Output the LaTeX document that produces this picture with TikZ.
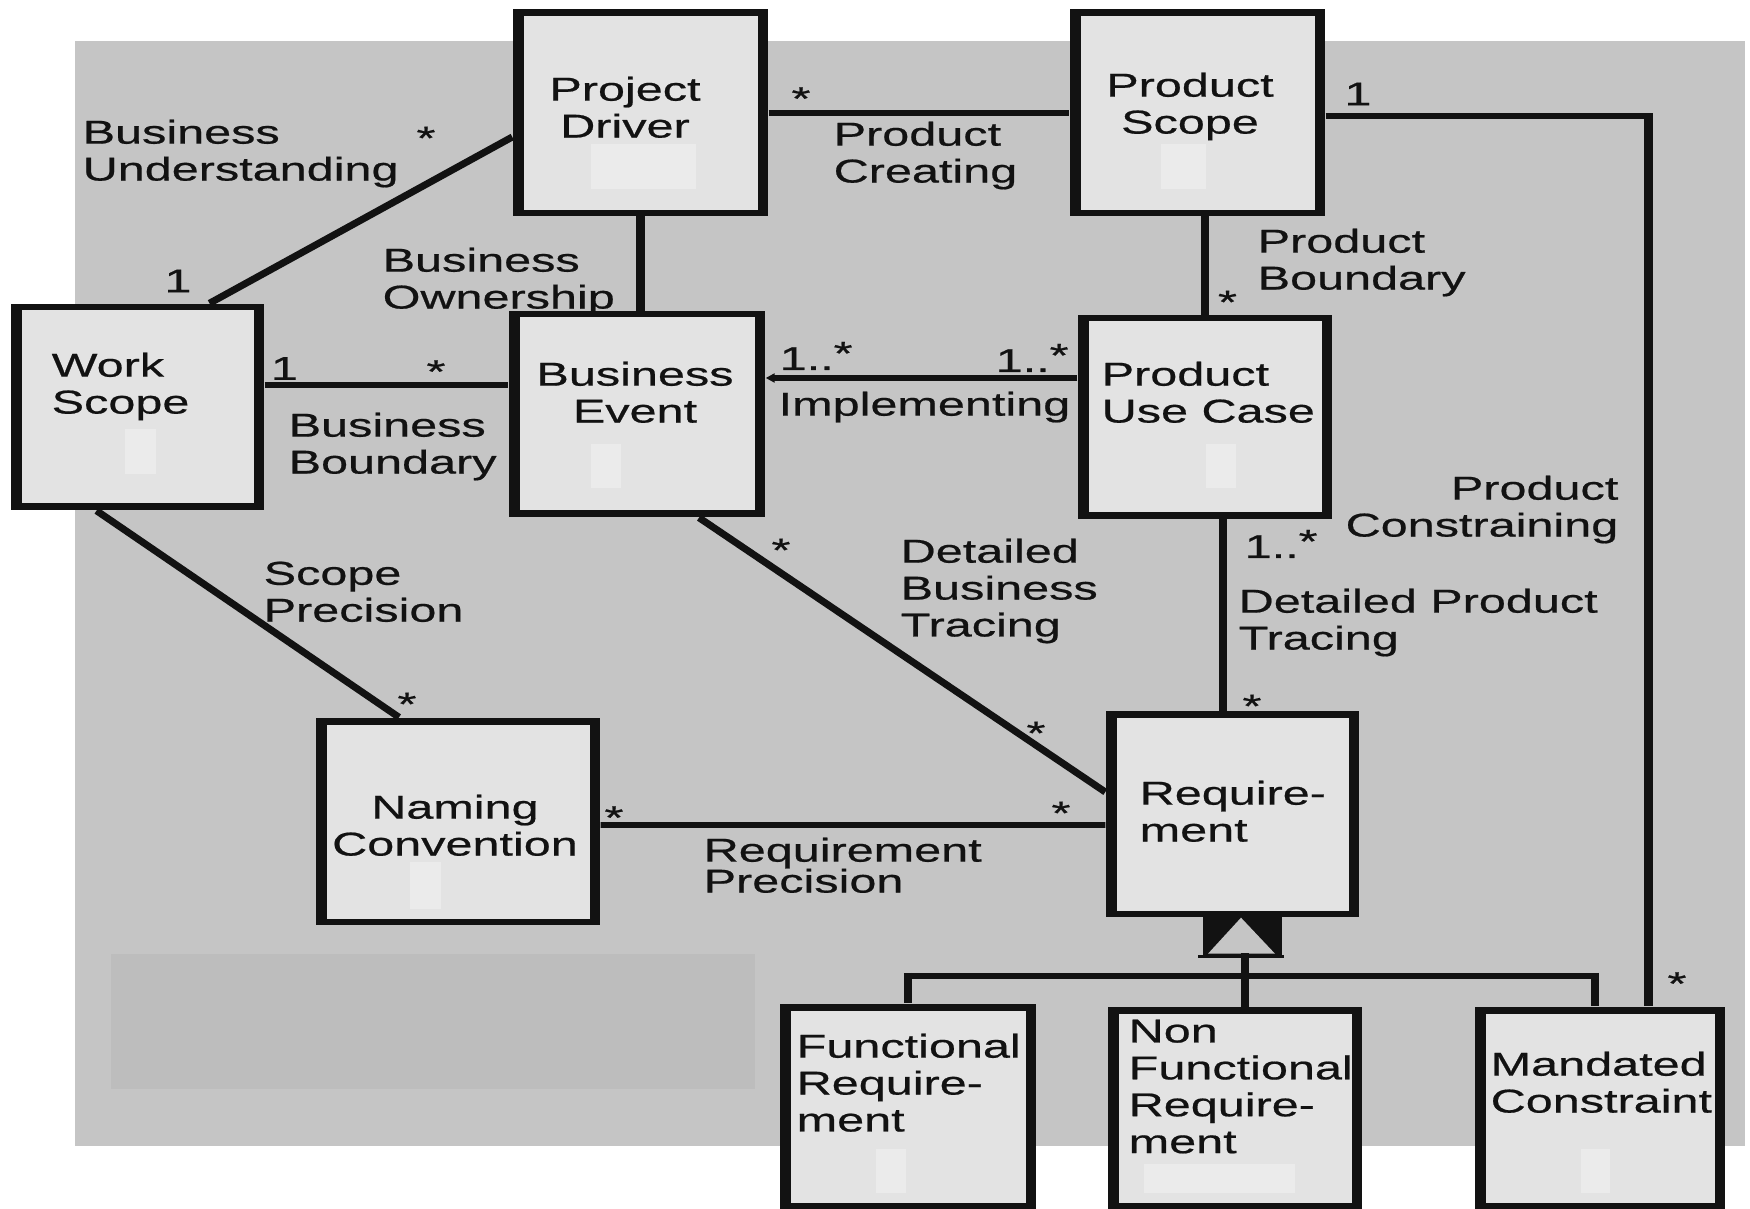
\documentclass[tikz,border=0pt]{standalone}
\usepackage{fontspec}
\setmainfont{Liberation Sans}[FakeStretch=1.47, FakeBold=0.6]
\usetikzlibrary{arrows.meta,calc}
\definecolor{SketchInk}{HTML}{121212}
\definecolor{SketchSheet}{HTML}{C5C5C5}
\definecolor{SketchShade}{HTML}{BDBDBD}
\definecolor{SketchBox}{HTML}{E3E3E3}
\definecolor{SketchPatch}{HTML}{EBEBEB}
\tikzset{
  every node/.style={font=\fontsize{9.4}{10.5}\selectfont, text=SketchInk, inner sep=0pt},
  classbox/.style={fill=SketchInk, minimum width=25.4mm, minimum height=20.6mm,
    path picture={\fill[SketchBox] ([shift={(1.05mm,0.65mm)}]path picture bounding box.south west)
      rectangle ([shift={(-1.05mm,-0.65mm)}]path picture bounding box.north east);}},
  rolename/.style={anchor=north west, align=left},
  classname/.style={anchor=north west, align=left},
  mult/.style={anchor=base},
  link/.style={draw=SketchInk, line width=1.6pt},
  uplink/.style={draw=SketchInk, line width=2.4pt, line cap=rect},
  slantlink/.style={draw=SketchInk, line width=2pt},
}
\begin{document}
\begin{tikzpicture}[x=0.1mm, y=-0.1mm]
  % one unit = one pixel of the 1750 x 1209 sketch, y grows downwards
  \useasboundingbox (0,0) rectangle (1750,1209);
  \fill[white] (0,0) rectangle (1750,1209);
  \fill[SketchSheet] (75,41) rectangle (1745,1146);
  \fill[SketchShade] (111,954) rectangle (755,1089);

  % classes
  \node[classbox, minimum width=25.3mm] (ws) at (137.5,407) {};
  \node[classbox, minimum width=25.5mm, minimum height=20.7mm] (pd) at (640.5,113) {};
  \node[classbox, minimum width=25.5mm, minimum height=20.7mm] (ps) at (1197.5,113) {};
  \node[classbox, minimum width=25.6mm] (be) at (637,414) {};
  \node[classbox, minimum height=20.4mm] (puc) at (1205,417) {};
  \node[classbox, minimum width=28.4mm, minimum height=20.7mm] (nc) at (458,821.5) {};
  \node[classbox, minimum width=25.3mm] (req) at (1232.5,814) {};
  \node[classbox, minimum width=25.6mm, minimum height=20.5mm] (fr) at (908,1106.5) {};
  \node[classbox, minimum height=20.2mm] (nfr) at (1235,1108) {};
  \node[classbox, minimum width=25.0mm, minimum height=20.2mm] (mc) at (1600,1108) {};
  \foreach \x/\y/\w/\h in {591/144/105/45, 125/429/31/45, 591/444/30/44,
      1161/144/45/45, 1206/444/30/44, 410/862/31/47, 876/1149/30/44,
      1144/1164/151/29, 1581/1149/29/44}
    \fill[SketchPatch] (\x,\y) rectangle ++(\w,\h);

  \node[classname] (ws-name) at (51,352) {Work\\Scope};
  \node[anchor=north, align=center] (pd-name) at (625,76) {Project\\Driver};
  \node[anchor=north, align=center] (ps-name) at (1190,72) {Product\\Scope};
  \node[anchor=north, align=center] (be-name) at (635,361) {Business\\Event};
  \node[classname] (puc-name) at (1101,361) {Product\\Use Case};
  \node[anchor=north, align=center] (nc-name) at (455,794) {Naming\\Convention};
  \node[classname] (req-name) at (1139,780) {Require-\\ment};
  \node[classname] (fr-name) at (796,1033) {Functional\\Require-\\ment};
  \node[classname] (nfr-name) at (1128,1019) {Non\\Functional\\Require-\\ment};
  \node[classname] (mc-name) at (1490,1051) {Mandated\\Constraint};

  % associations
  \draw[slantlink] ($(ws.north)+(72,0)$) -- ($(pd.west)+(0,24)$);
  \draw[uplink] (pd.south) -- (pd.south |- be.north);
  \draw[link] ($(ws.east)+(0,-22)$) -- ($(be.west)+(0,-29)$);
  \draw[link] (pd.east) -- (ps.west);
  \draw[uplink] (puc.north |- ps.south) -- (puc.north);
  \coordinate (bend) at ($(ps.east)+(323,3)$);
  \draw[link] ($(ps.east)+(0,3)$) -- ($(bend)+(4.2,0)$);
  \draw[uplink, line cap=butt] ($(bend)+(0,-2.8)$) -- (bend |- mc.north);
  \draw[link, -{Triangle[length=0.9mm,width=0.9mm]}] ($(puc.west)+(0,-39)$) -- ($(be.east)+(0,-36)$);
  \draw[slantlink] ($(be.south)+(62,0)$) -- ($(req.west)+(0,-22)$);
  \coordinate (trace) at ($(puc.south)+(18,0)$);
  \draw[uplink] (trace) -- (trace |- req.north);
  \draw[slantlink] ($(ws.south)+(-41,0)$) -- ($(nc.north)+(-59,0)$);
  \draw[link] ($(nc.east)+(0,3.5)$) -- ($(req.west)+(0,11)$);

  % generalization
  \coordinate (gen) at ($(req.south)+(8.5,0)$);
  \fill[SketchInk] ($(gen)+(-38,-3)$) rectangle ($(gen)+(41,40)$);
  \fill[SketchSheet] ($(gen)+(-33,36)$) -- ($(gen)+(34,36)$) -- (gen) -- cycle;
  \draw[SketchInk, line width=0.8pt] ($(gen)+(-43,38.5)$) -- ($(gen)+(43,38.5)$);
  \coordinate (genfoot) at ($(gen)+(4,40)$);
  \coordinate (bus) at ($(gen)+(0,58)$);
  \coordinate (mcfoot) at ($(mc.north)+(-5,0)$);
  \draw[uplink] (genfoot) -- (genfoot |- nfr.north);
  \draw[link] ($(fr.north |- bus)+(-4.2,0)$) -- ($(mcfoot |- bus)+(4.2,0)$);
  \draw[uplink, line cap=butt] ($(fr.north |- bus)+(0,-2.8)$) -- (fr.north);
  \draw[uplink, line cap=butt] ($(mcfoot |- bus)+(0,-2.8)$) -- (mcfoot);

  % role names
  \node[rolename] (bu) at (82,119) {Business\\Understanding};
  \node[rolename] (bo) at (382,247) {Business\\Ownership};
  \node[rolename] (bb) at (288,412) {Business\\Boundary};
  \node[rolename] (pc) at (833,121) {Product\\Creating};
  \node[rolename] (pb) at (1257,228) {Product\\Boundary};
  \node[rolename] (impl) at (778,391) {Implementing};
  \node[anchor=north east, align=right] (pcon) at (1619,475) {Product\\Constraining};
  \node[rolename] (dbt) at (900,538) {Detailed\\Business\\Tracing};
  \node[rolename] (dpt) at (1238,588) {Detailed Product\\Tracing};
  \node[rolename] (sp) at (263,561) {Scope\\Precision};
  \node[rolename] (rp) at (703,837) {Requirement\\[-1.7pt]Precision};

  % multiplicities
  \node[mult] (m-bu-pd) at (426,149.5) {*};
  \node (m-bu-ws) at (178,281) {1};
  \node (m-bb-ws) at (284.5,368.5) {1};
  \node[mult] (m-bb-be) at (436,383) {*};
  \node[mult] (m-pc-pd) at (801,110) {*};
  \node (m-pcon-ps) at (1358,94) {1};
  \node[mult] (m-pb-puc) at (1227.5,313.5) {*};
  \node[anchor=base west] (m-impl-be) at (779,370) {1..\raisebox{1.5pt}{*}};
  \node[anchor=base west] (m-impl-puc) at (995,372) {1..\raisebox{1.5pt}{*}};
  \node[anchor=base west] (m-dpt-puc) at (1244,558) {1..\raisebox{1.5pt}{*}};
  \node[mult] (m-dpt-req) at (1252,717.5) {*};
  \node[mult] (m-dbt-be) at (781,561.5) {*};
  \node[mult] (m-dbt-req) at (1036,744.5) {*};
  \node[mult] (m-rp-req) at (1061,824.5) {*};
  \node[mult] (m-rp-nc) at (614,829) {*};
  \node[mult] (m-sp-nc) at (407,715.5) {*};
  \node[mult] (m-pcon-mc) at (1677,995) {*};
\end{tikzpicture}
\end{document}
